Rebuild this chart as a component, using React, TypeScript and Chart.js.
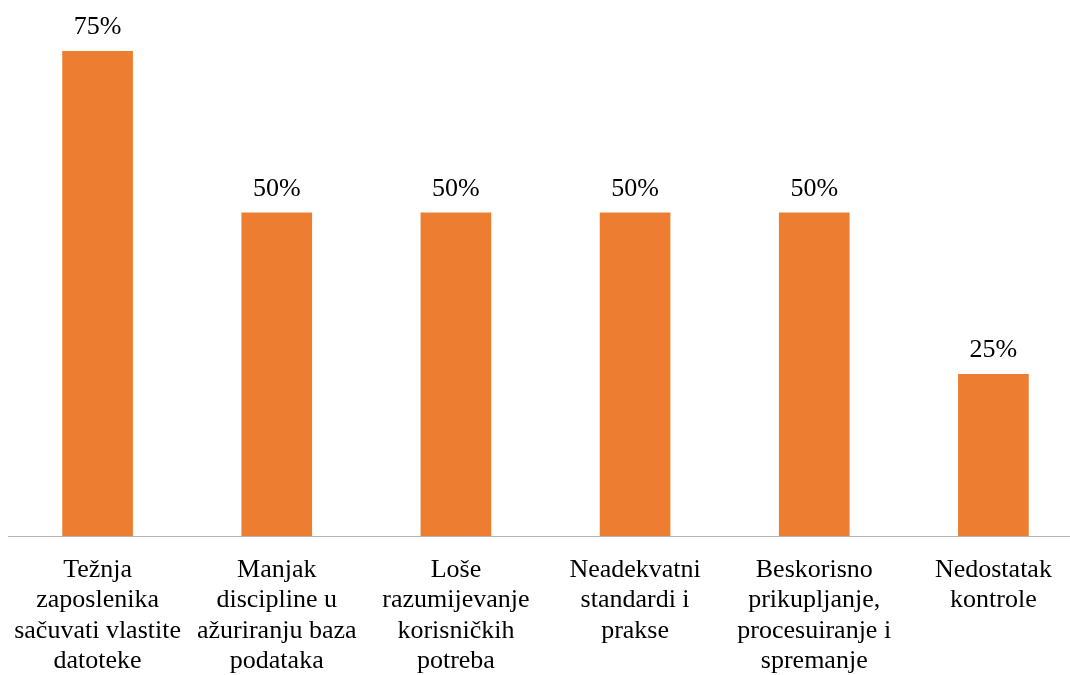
import React, { useEffect, useRef } from "react";
import { Chart, registerables } from "chart.js";

Chart.register(...registerables);

const categories: string[][] = [
  ["Težnja", "zaposlenika", "sačuvati vlastite", "datoteke"],
  ["Manjak", "discipline u", "ažuriranju baza", "podataka"],
  ["Loše", "razumijevanje", "korisničkih", "potreba"],
  ["Neadekvatni", "standardi i", "prakse"],
  ["Beskorisno", "prikupljanje,", "procesuiranje i", "spremanje"],
  ["Nedostatak", "kontrole"],
];
const values: number[] = [75, 50, 50, 50, 50, 25];

const FONT = "'Liberation Serif', 'Times New Roman', serif";

const valueLabels = {
  id: "valueLabels",
  afterDatasetsDraw(chart: any) {
    const ctx = chart.ctx;
    const meta = chart.getDatasetMeta(0);
    ctx.save();
    ctx.font = `26px ${FONT}`;
    ctx.fillStyle = "#000000";
    ctx.textAlign = "center";
    ctx.textBaseline = "alphabetic";
    meta.data.forEach((bar: any, i: number) => {
      ctx.fillText(`${values[i]}%`, bar.x, bar.y - 17);
    });
    ctx.restore();
  },
};

export default function App() {
  const ref = useRef<HTMLCanvasElement>(null);
  useEffect(() => {
    if (!ref.current) return;
    const chart = new Chart(ref.current, {
      type: "bar",
      data: {
        labels: categories,
        datasets: [
          {
            data: values,
            backgroundColor: "#ED7D31",
            borderWidth: 0,
            barThickness: 70,
          },
        ],
      },
      options: {
        responsive: false,
        animation: false,
        layout: { padding: { left: 8, right: 0, top: 19, bottom: 0 } },
        plugins: { legend: { display: false }, tooltip: { enabled: false } },
        scales: {
          x: {
            grid: { display: false, drawTicks: false },
            border: { display: true, color: "#b3b3b3", width: 1 },
            ticks: {
              color: "#000000",
              font: { family: FONT, size: 26, lineHeight: 30.3 / 26 },
              padding: 19,
              maxRotation: 0,
              autoSkip: false,
            },
            afterFit: (scale: any) => {
              scale.height = 139;
              scale.paddingLeft = 0;
              scale.paddingRight = 0;
            },
          },
          y: {
            display: false,
            min: 0,
            max: 80,
          },
        },
      },
      plugins: [valueLabels],
    });
    return () => chart.destroy();
  }, []);
  return (
    <div
      style={{
        position: "fixed",
        left: 0,
        top: 0,
        width: 1070,
        height: 675,
        overflow: "hidden",
        background: "#ffffff",
      }}
    >
      <canvas ref={ref} width={1083} height={675} style={{ display: "block" }} />
    </div>
  );
}
